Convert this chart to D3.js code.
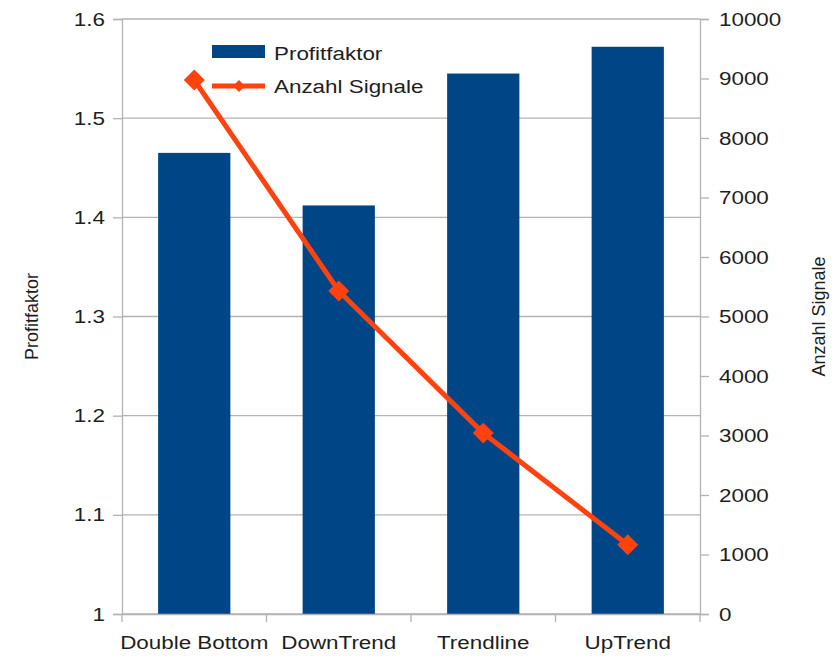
<!DOCTYPE html>
<html>
<head>
<meta charset="utf-8">
<script src="https://cdn.jsdelivr.net/npm/d3@7"></script>
<style>
  html, body { margin: 0; padding: 0; background: #fff; }
  svg { display: block; font-family: "Liberation Sans", Arial, sans-serif; }
</style>
</head>
<body>
<svg id="chart" width="833" height="657"></svg>
<script>
// ---- data ----
const categories = ["Double Bottom", "DownTrend", "Trendline", "UpTrend"];
const profitfaktor = [1.465, 1.412, 1.545, 1.572];
const anzahlSignale = [8975, 5430, 3040, 1165];
const leftTicks = [1, 1.1, 1.2, 1.3, 1.4, 1.5, 1.6];
const rightTicks = [0, 1000, 2000, 3000, 4000, 5000, 6000, 7000, 8000, 9000, 10000];
const seriesNames = ["Profitfaktor", "Anzahl Signale"];
const axisTitles = ["Profitfaktor", "Anzahl Signale"];

// ---- layout ----
const plot = { left: 122, right: 700, top: 19, bottom: 614 };
const barColor = "#004586", lineColor = "#ff420e", gridColor = "#b3b3b3", textColor = "#1e1e1e";
const fontSize = 19, stretchK = 1.18;

const svg = d3.select("#chart");

function stretch(sel, k) {
  sel.each(function () {
    const t = d3.select(this);
    const x = +t.attr("x") || 0, y = +t.attr("y") || 0;
    t.attr("transform", `translate(${x},${y}) scale(${k},1) translate(${-x},${-y})`);
  });
}

const x = d3.scaleBand().domain(categories).range([plot.left, plot.right])
  .paddingInner(0.5).paddingOuter(0.25);
const xOuter = d3.scaleBand().domain(categories).range([plot.left, plot.right]).padding(0);
const yL = d3.scaleLinear().domain([1, 1.6]).range([plot.bottom, plot.top]);
const yR = d3.scaleLinear().domain([0, 10000]).range([plot.bottom, plot.top]);

// gridlines
svg.append("g").selectAll("line").data(leftTicks).join("line")
  .attr("x1", plot.left).attr("x2", plot.right)
  .attr("y1", d => yL(d)).attr("y2", d => yL(d))
  .attr("stroke", gridColor).attr("stroke-width", 1.3);

// bars
svg.append("g").selectAll("rect").data(categories).join("rect")
  .attr("x", d => x(d)).attr("width", x.bandwidth())
  .attr("y", (d, i) => yL(profitfaktor[i]))
  .attr("height", (d, i) => yL(1) - yL(profitfaktor[i]))
  .attr("fill", barColor);

// left axis
const gL = svg.append("g").attr("transform", `translate(${plot.left},0)`)
  .call(d3.axisLeft(yL).tickValues(leftTicks).tickFormat(d3.format("")).tickSize(9).tickPadding(8));
gL.select(".domain").attr("stroke", gridColor).attr("stroke-width", 1.3);
gL.selectAll(".tick line").attr("stroke", gridColor).attr("stroke-width", 1.3);
gL.selectAll("text").attr("font-size", fontSize).attr("fill", textColor)
  .attr("font-family", "Liberation Sans, Arial, sans-serif").call(stretch, stretchK);

// right axis
const gR = svg.append("g").attr("transform", `translate(${plot.right},0)`)
  .call(d3.axisRight(yR).tickValues(rightTicks).tickFormat(d3.format("d")).tickSize(9).tickPadding(10));
gR.select(".domain").attr("stroke", gridColor).attr("stroke-width", 1.3);
gR.selectAll(".tick line").attr("stroke", gridColor).attr("stroke-width", 1.3);
gR.selectAll("text").attr("font-size", fontSize).attr("fill", textColor)
  .attr("font-family", "Liberation Sans, Arial, sans-serif").call(stretch, stretchK);

// bottom axis: labels at band centres, ticks at band boundaries
const gB = svg.append("g").attr("transform", `translate(0,${plot.bottom})`)
  .call(d3.axisBottom(x).tickSize(0).tickPadding(22));
gB.select(".domain").attr("stroke", gridColor).attr("stroke-width", 1.3);
gB.selectAll("text").attr("font-size", fontSize).attr("fill", textColor)
  .attr("font-family", "Liberation Sans, Arial, sans-serif").call(stretch, stretchK);
const boundaries = categories.map(c => xOuter(c)).concat([plot.right]);
gB.append("g").selectAll("line").data(boundaries).join("line")
  .attr("x1", d => d).attr("x2", d => d).attr("y1", 0).attr("y2", 8)
  .attr("stroke", gridColor).attr("stroke-width", 1.3);

// line series
const cx = d => x(d) + x.bandwidth() / 2;
const line = d3.line().x((d, i) => cx(categories[i])).y(d => yR(d)).curve(d3.curveLinear);
svg.append("path").datum(anzahlSignale).attr("d", line)
  .attr("fill", "none").attr("stroke", lineColor).attr("stroke-width", 5)
  .attr("stroke-linejoin", "round");
const diamond = d3.symbol().type(d3.symbolSquare).size(220);
svg.append("g").selectAll("path").data(anzahlSignale).join("path")
  .attr("d", diamond)
  .attr("transform", (d, i) => `translate(${cx(categories[i])},${yR(d)}) rotate(45)`)
  .attr("fill", lineColor);

// axis titles
svg.append("text").text(axisTitles[0])
  .attr("transform", `translate(38,${(plot.top + plot.bottom) / 2}) rotate(-90)`)
  .attr("text-anchor", "middle").attr("font-size", fontSize - 1).attr("fill", textColor);
svg.append("text").text(axisTitles[1])
  .attr("transform", `translate(825,${(plot.top + plot.bottom) / 2}) rotate(-90)`)
  .attr("text-anchor", "middle").attr("font-size", fontSize - 1).attr("fill", textColor);

// legend
const lg = svg.append("g").attr("transform", "translate(212,0)");
lg.append("rect").attr("x", 0).attr("y", 45).attr("width", 53).attr("height", 13).attr("fill", barColor);
lg.append("text").text(seriesNames[0]).attr("x", 62).attr("y", 60)
  .attr("font-size", fontSize).attr("fill", textColor).call(stretch, stretchK);
lg.append("line").attr("x1", 0).attr("x2", 53).attr("y1", 86).attr("y2", 86)
  .attr("stroke", lineColor).attr("stroke-width", 5);
lg.append("path").attr("d", d3.symbol().type(d3.symbolSquare).size(70))
  .attr("transform", "translate(27,86) rotate(45)").attr("fill", lineColor);
lg.append("text").text(seriesNames[1]).attr("x", 62).attr("y", 93)
  .attr("font-size", fontSize).attr("fill", textColor).call(stretch, stretchK);
</script>
</body>
</html>
